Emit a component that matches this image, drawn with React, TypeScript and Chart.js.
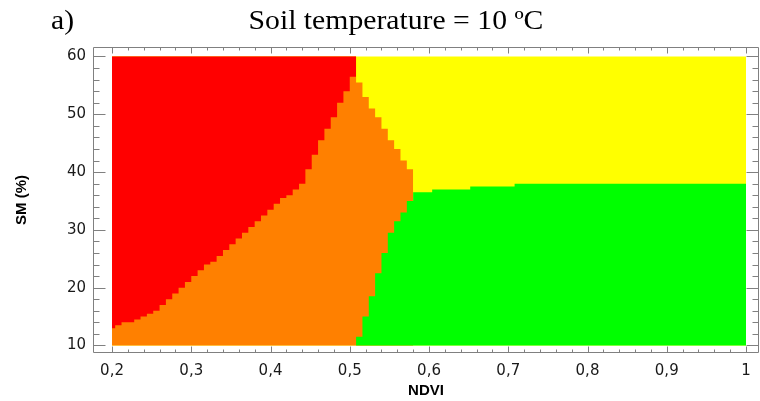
import React, { useEffect, useRef } from "react";
import { Chart, registerables } from "chart.js";

Chart.register(...registerables);

// Axis tick labels
const X_TICKS = [0.2, 0.3, 0.4, 0.5, 0.6, 0.7, 0.8, 0.9, 1.0];
const Y_TICKS = [10, 20, 30, 40, 50, 60];

// Red / orange boundary (step start NDVI, SM of lower edge of red zone)
const RED_NDVI = [
  0.2, 0.204, 0.212, 0.22, 0.228, 0.236, 0.244, 0.252, 0.26, 0.268, 0.276, 0.284, 0.292,
  0.3, 0.308, 0.316, 0.324, 0.332, 0.34, 0.348, 0.356, 0.364, 0.372, 0.38, 0.388, 0.396,
  0.404, 0.412, 0.42, 0.428, 0.436, 0.444, 0.452, 0.46, 0.468, 0.476, 0.484, 0.492, 0.5, 0.508,
];
const RED_SM = [
  13, 13.5, 14, 14, 14.5, 15, 15.5, 16, 17, 18, 19, 20, 21,
  22, 23, 24, 24.5, 25.5, 26.5, 27.5, 28.5, 29.5, 30.5, 31.5, 32.5, 33.5,
  34.5, 35.5, 36, 37, 38, 40.5, 43, 45.5, 47.5, 49.5, 52, 54, 56.5, 56.5,
];

// Orange / yellow boundary (upper edge of orange zone)
const ORANGE_NDVI = [0.2, 0.508, 0.516, 0.524, 0.532, 0.54, 0.548, 0.556, 0.564, 0.572, 0.58];
const ORANGE_SM = [60, 55.5, 53, 51, 49.5, 47.5, 45.5, 44, 42, 40.5, 40.5];

// Green upper edge (orange/green then yellow/green boundary)
const GREEN_NDVI = [0.508, 0.516, 0.524, 0.532, 0.54, 0.548, 0.556, 0.564, 0.572, 0.58, 0.604, 0.652, 0.708, 1.0];
const GREEN_SM = [11.5, 15, 18.5, 22.5, 26, 29.5, 31.5, 33, 35, 36.5, 37, 37.5, 38, 38];

// Yellow zone (top of the domain)
const YELLOW_NDVI = [0.2, 1.0];
const YELLOW_SM = [60, 60];

const SM_MIN = 10;
const SM_MAX = 60;

const pts = (xs: number[], ys: number[]) => xs.map((x, i) => ({ x, y: ys[i] }));

const framePlugin = {
  id: "frameTicks",
  afterDraw(chart: any) {
    const { ctx, chartArea: a, scales } = chart;
    const xs = scales.x;
    const ys = scales.y;
    const L = Math.round(a.left) + 0.5;
    const R = Math.round(a.right) - 0.5;
    const T = Math.round(a.top) + 0.5;
    const B = Math.round(a.bottom) - 0.5;
    ctx.save();
    ctx.strokeStyle = "#808080";
    ctx.lineWidth = 1;
    ctx.beginPath();
    ctx.rect(L, T, R - L, B - T);
    // x ticks (inward, top and bottom)
    for (let k = 0; k <= 40; k++) {
      const v = 0.2 + k * 0.02;
      const major = k % 5 === 0;
      const len = major ? 6 : 3;
      const px = Math.round(xs.getPixelForValue(v)) + 0.5;
      ctx.moveTo(px, B);
      ctx.lineTo(px, B - len);
      ctx.moveTo(px, T);
      ctx.lineTo(px, T + len);
    }
    // y ticks (inward, left and right)
    for (let k = 0; k <= 25; k++) {
      const v = 10 + k * 2;
      const major = k % 5 === 0;
      const len = major ? 12 : 6;
      const py = Math.round(ys.getPixelForValue(v)) + 0.5;
      ctx.moveTo(L, py);
      ctx.lineTo(L + len, py);
      ctx.moveTo(R, py);
      ctx.lineTo(R - len, py);
    }
    ctx.stroke();

    // Headings
    ctx.fillStyle = "#000";
    ctx.textBaseline = "alphabetic";
    ctx.font = '27px "Liberation Serif"';
    ctx.save();
    ctx.translate(51, 29);
    ctx.scale(1.1, 1);
    ctx.textAlign = "left";
    ctx.fillText("a)", 0, 0);
    ctx.restore();
    ctx.save();
    ctx.translate(396, 29);
    ctx.scale(1.1, 1);
    ctx.textAlign = "center";
    ctx.fillText("Soil temperature = 10 \u00baC", 0, 0);
    ctx.restore();
    ctx.restore();
  },
};

const zone = (data: { x: number; y: number }[], color: string, fill: any) => ({
  data,
  backgroundColor: color,
  borderColor: "transparent",
  borderWidth: 0,
  pointRadius: 0,
  pointHoverRadius: 0,
  stepped: true,
  tension: 0,
  fill,
});

export default function App() {
  const ref = useRef<HTMLCanvasElement>(null);
  useEffect(() => {
    const chart = new Chart(ref.current as HTMLCanvasElement, {
      type: "line",
      data: {
        datasets: [
          zone(pts(RED_NDVI, RED_SM), "#ff0000", { value: SM_MAX }),
          zone(pts(GREEN_NDVI, GREEN_SM), "#00ff00", { value: SM_MIN }),
          zone(pts(ORANGE_NDVI, ORANGE_SM), "#ff8000", { value: SM_MIN }),
          zone(pts(YELLOW_NDVI, YELLOW_SM), "#ffff00", { value: SM_MIN }),
        ] as any,
      },
      options: {
        animation: false,
        responsive: false,
        events: [],
        layout: { padding: { top: 47, right: 1, left: 0, bottom: 0 } },
        plugins: {
          legend: { display: false },
          tooltip: { enabled: false },
          title: { display: false },
        },
        scales: {
          x: {
            type: "linear",
            min: 0.176,
            max: 1.0164,
            grid: { display: false, drawTicks: false },
            border: { display: false },
            afterBuildTicks: (s: any) => {
              s.ticks = X_TICKS.map((v) => ({ value: v }));
            },
            afterFit: (s: any) => {
              s.height = 48;
            },
            ticks: {
              autoSkip: false,
              maxRotation: 0,
              padding: 9,
              color: "#1a1a1a",
              font: { family: '"DejaVu Sans"', size: 15 },
              callback: (v: any) => String(v).replace(".", ","),
            },
            title: {
              display: true,
              text: "NDVI",
              color: "#000",
              font: { family: '"Liberation Sans"', size: 15, weight: "bold" },
              padding: { top: 0, bottom: 1 },
            },
          },
          y: {
            type: "linear",
            min: 8.7,
            max: 61.64,
            grid: { display: false, drawTicks: false },
            border: { display: false },
            afterBuildTicks: (s: any) => {
              s.ticks = Y_TICKS.map((v) => ({ value: v }));
            },
            afterFit: (s: any) => {
              s.width = 93;
            },
            ticks: {
              autoSkip: false,
              padding: 7,
              color: "#1a1a1a",
              font: { family: '"DejaVu Sans"', size: 15 },
              callback: (v: any) => String(v),
            },
            title: {
              display: true,
              text: "SM (%)",
              color: "#000",
              font: { family: '"Liberation Sans"', size: 15, weight: "bold" },
              padding: { top: 13, bottom: 0 },
            },
          },
        },
      },
      plugins: [framePlugin],
    });
    return () => chart.destroy();
  }, []);
  return (
    <div style={{ position: "absolute", left: 0, top: 0, width: 760, height: 401, background: "#fff" }}>
      <canvas ref={ref} width={760} height={401} style={{ display: "block" }} />
    </div>
  );
}
